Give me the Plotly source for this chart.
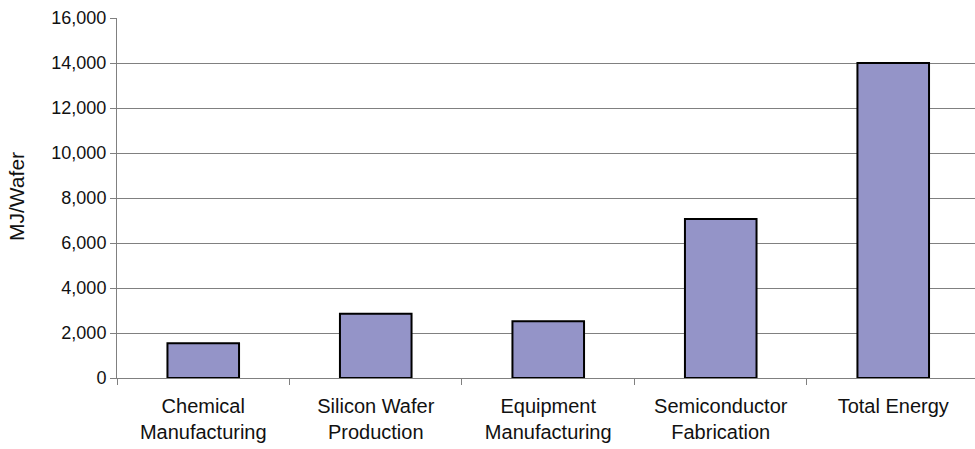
import plotly.graph_objects as go

categories = ["Chemical<br>Manufacturing", "Silicon Wafer<br>Production", "Equipment<br>Manufacturing",
              "Semiconductor<br>Fabrication", "Total Energy"]
values = [1550, 2860, 2520, 7070, 14000]
y_tick_vals = [0, 2000, 4000, 6000, 8000, 10000, 12000, 14000, 16000]

W, H = 975, 449
ml, mr, mt, mb = 117, 0, 18, 71

fig = go.Figure(go.Bar(
    x=categories, y=values,
    marker=dict(color="#9494C8", line=dict(color="#000000", width=2)),
    width=0.415,
))

fig.update_layout(
    width=W, height=H,
    margin=dict(l=ml, r=mr, t=mt, b=mb),
    paper_bgcolor="white", plot_bgcolor="white",
    font=dict(family="Liberation Sans, Arial, sans-serif", size=19, color="#111111"),
    showlegend=False,
)
fig.update_xaxes(
    type="category", range=[-0.5, 4.474], tickson="boundaries", ticks="outside", ticklen=6,
    tickcolor="#808080", showline=True, linecolor="#808080", linewidth=1, showgrid=False,
    tickfont=dict(size=20), ticklabelstandoff=10,
)
fig.update_yaxes(
    range=[0, 16000], tickvals=y_tick_vals, tickformat=",", ticks="outside", ticklen=6,
    tickcolor="#808080", showline=True, linecolor="#808080", linewidth=1,
    showgrid=True, gridcolor="#808080", gridwidth=1, zeroline=False,
    tickfont=dict(size=18),
)
pw = W - ml - mr
ph = H - mt - mb
fig.add_annotation(
    text="MJ/Wafer", textangle=-90, xref="paper", yref="paper",
    x=(16 - ml) / pw, y=(H - mb - 197) / ph, xanchor="center", yanchor="middle", showarrow=False,
    font=dict(size=21),
)
fig.write_html("out.html")
